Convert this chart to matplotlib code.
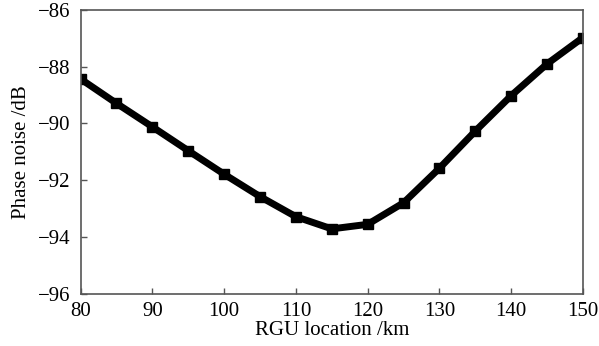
import matplotlib
matplotlib.use("Agg")
import matplotlib.pyplot as plt

# RGU position along the link (km) and measured phase noise (dB)
location_km = [80, 85, 90, 95, 100, 105, 110, 115, 120, 125, 130, 135, 140, 145, 150]
phase_noise_db = [-88.43, -89.29, -90.12, -90.96, -91.79, -92.58, -93.29, -93.72,
                  -93.56, -92.80, -91.58, -90.27, -89.02, -87.90, -86.97]

x_ticks = [80, 90, 100, 110, 120, 130, 140, 150]
y_ticks = [-96, -94, -92, -90, -88, -86]

plt.rcParams["font.family"] = ["Liberation Serif", "DejaVu Serif"]
plt.rcParams["font.size"] = 15

fig = plt.figure(figsize=(5.99, 3.46), dpi=100)
ax = fig.add_axes([0.1344, 0.1517, 0.9733 - 0.1344, 0.9711 - 0.1517])

ax.plot(location_km, phase_noise_db, color="black", linewidth=5,
        marker="s", markersize=7.5, solid_joinstyle="miter")

ax.set_xlim(80, 150)
ax.set_ylim(-96, -86)
ax.set_xticks(x_ticks)
ax.set_yticks(y_ticks)
ax.set_xticklabels([str(v) for v in x_ticks])
ax.set_yticklabels(["\u2212%d" % abs(v) for v in y_ticks])

for side in ax.spines.values():
    side.set_color("#555555")
    side.set_linewidth(1.2)

ax.tick_params(direction="in", length=4, width=1, color="#555555",
               top=False, right=False)
ax.tick_params(axis="y", pad=7)
ax.tick_params(axis="x", pad=6)

ax.set_xlabel("RGU location /km", labelpad=0)
ax.set_ylabel("Phase noise /dB", labelpad=5)

fig.savefig("out.png", dpi=100, facecolor="white")
